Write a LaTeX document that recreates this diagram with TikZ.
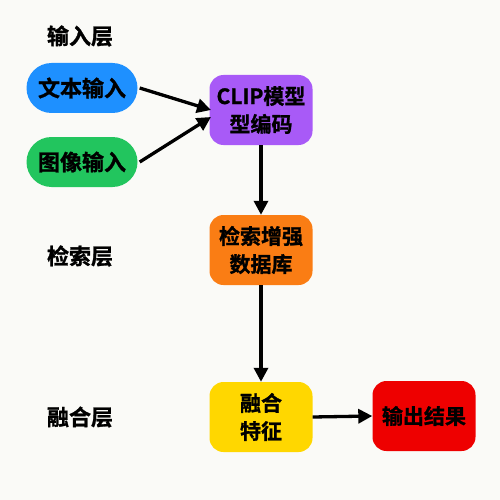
\documentclass[tikz,border=0pt]{standalone}
\usepackage{fontspec}
\newfontfamily\cjk[FakeBold=1.2]{Noto Sans CJK SC Bold}
\usetikzlibrary{arrows.meta}
\definecolor{bgc}{RGB}{250,250,247}
\definecolor{cblue}{RGB}{30,144,255}
\definecolor{cgreen}{RGB}{34,197,94}
\definecolor{cpurple}{RGB}{168,90,247}
\definecolor{corange}{RGB}{250,125,20}
\definecolor{cyellow}{RGB}{255,215,0}
\definecolor{cred}{RGB}{238,0,0}
\tikzset{
  pill/.style={rounded corners=25pt, minimum width=111pt, minimum height=50pt, inner sep=0pt, font=\cjk\fontsize{22}{24}\selectfont, text=black},
  boxn/.style={rounded corners=14pt, minimum width=103pt, minimum height=70pt, inner sep=0pt, align=center, font=\cjk\fontsize{21}{28}\selectfont, text=black},
  lay/.style={font=\cjk\fontsize{22}{24}\selectfont, text=black},
  arr/.style={line width=3.3pt, -{Triangle[length=14pt,width=14pt]}}
}
\begin{document}
\begin{tikzpicture}[x=1pt,y=-1pt]
\fill[bgc] (0,0) rectangle (500,500);
\useasboundingbox (0,0) rectangle (500,500);
\node[lay] (l1) at (80,36) {输入层};
\node[lay] (l2) at (80,256) {检索层};
\node[lay] (l3) at (80,417) {融合层};
\node[pill, fill=cblue] (txt) at (82,88) {文本输入};
\node[pill, fill=cgreen] (img) at (82,162) {图像输入};
\node[boxn, fill=cpurple] (clip) at (261,110) {CLIP模型\\型编码};
\node[boxn, fill=corange] (db) at (261,250) {检索增强\\数据库};
\node[boxn, fill=cyellow] (fuse) at (261,417) {融合\\特征};
\node[boxn, fill=cred] (out) at (424,416) {输出结果};
\coordinate (t1) at (211,110);
\coordinate (t2) at (211,117);
\draw[arr] ([xshift=2pt]txt.east) -- (t1);
\draw[arr] ([xshift=2pt]img.east) -- (t2);
\draw[arr] (clip.south) -- (db.north);
\draw[arr] (db.south) -- (fuse.north);
\draw[arr] (fuse.east) -- (out.west);
\end{tikzpicture}
\end{document}
